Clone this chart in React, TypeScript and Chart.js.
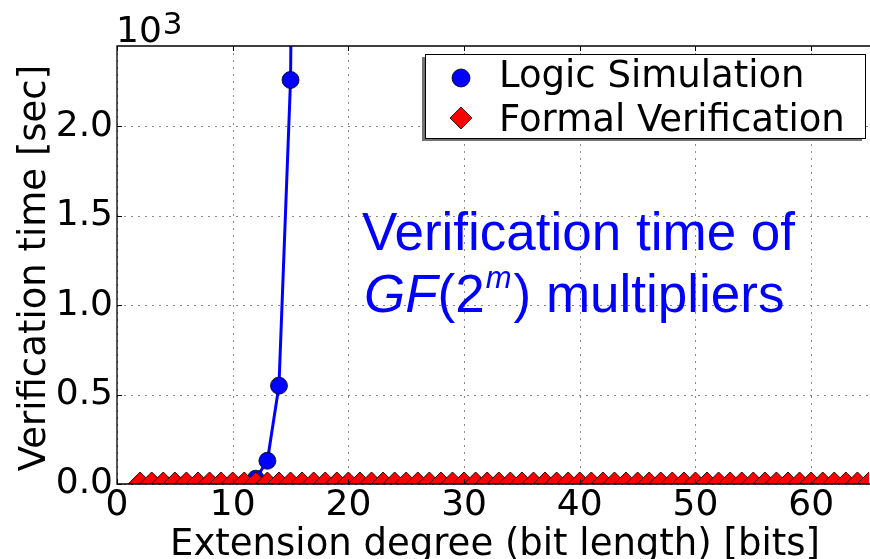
import React, { useEffect, useRef } from "react";
import { Chart, registerables } from "chart.js";

Chart.register(...registerables);

// Extension degree m (bits) and verification time (x10^3 sec)
const simDegrees = [2, 3, 4, 5, 6, 7, 8, 9, 10, 11, 12, 13, 14, 15, 16];
const simTimes = [0, 0, 0, 0, 0, 0, 0, 0, 0, 0.002, 0.03, 0.13, 0.55, 2.26, 9.3];

const formalDegrees = [
  2, 3, 4, 5, 6, 7, 8, 9, 10, 11, 12, 13, 14, 15, 16, 17, 18, 19, 20, 21, 22, 23, 24, 25, 26, 27, 28, 29, 30, 31, 32, 33,
  34, 35, 36, 37, 38, 39, 40, 41, 42, 43, 44, 45, 46, 47, 48, 49, 50, 51, 52, 53, 54, 55, 56, 57, 58, 59, 60, 61, 62, 63, 64, 65,
];
const formalTimes = [
  0, 0, 0, 0, 0, 0, 0, 0, 0, 0, 0, 0, 0, 0, 0, 0, 0, 0, 0, 0, 0, 0, 0, 0, 0, 0, 0, 0, 0, 0, 0, 0,
  0, 0, 0, 0, 0, 0, 0, 0, 0, 0, 0, 0, 0, 0, 0, 0, 0, 0, 0, 0, 0, 0, 0, 0, 0, 0, 0, 0, 0, 0, 0, 0,
];

const seriesNames = ["Logic Simulation", "Formal Verification"];
const xTitle = "Extension degree (bit length) [bits]";
const yTitle = "Verification time [sec]";
const noteLine1 = "Verification time of";

const X_MIN = 0;
const X_MAX = 65;
const Y_MIN = 0;
const Y_MAX = 2.45;

const FONT = '"DejaVu Sans", sans-serif';
const NOTE_FONT = '"Liberation Sans", Arial, sans-serif';
const BLUE = "#0000ff";
const RED = "#ff0000";

const overlayPlugin = {
  id: "overlay",
  beforeDatasetsDraw(chart: any) {
    const { ctx, chartArea: a } = chart;
    const xs = chart.scales.x;
    const ys = chart.scales.y;
    ctx.save();
    ctx.strokeStyle = "#8a8a8a";
    ctx.lineWidth = 1;
    ctx.setLineDash([2, 5]);
    xs.ticks.forEach((t: any) => {
      const px = Math.round(xs.getPixelForValue(t.value)) + 0.5;
      ctx.beginPath();
      ctx.moveTo(px, a.top);
      ctx.lineTo(px, a.bottom);
      ctx.stroke();
    });
    ys.ticks.forEach((t: any) => {
      const py = Math.round(ys.getPixelForValue(t.value)) + 0.5;
      ctx.beginPath();
      ctx.moveTo(a.left, py);
      ctx.lineTo(a.right, py);
      ctx.stroke();
    });
    ctx.restore();
  },
  afterDraw(chart: any) {
    const { ctx, chartArea: a } = chart;
    const xs = chart.scales.x;
    const ys = chart.scales.y;
    ctx.save();
    // frame
    ctx.strokeStyle = "#000";
    ctx.lineWidth = 1.3;
    ctx.setLineDash([]);
    ctx.beginPath();
    ctx.moveTo(a.right + 2, a.top);
    ctx.lineTo(a.left, a.top);
    ctx.lineTo(a.left, a.bottom);
    ctx.lineTo(a.right + 2, a.bottom);
    ctx.stroke();
    // inner ticks
    ctx.lineWidth = 1;
    xs.ticks.forEach((t: any) => {
      const px = Math.round(xs.getPixelForValue(t.value)) + 0.5;
      ctx.beginPath();
      ctx.moveTo(px, a.top);
      ctx.lineTo(px, a.top + 5);
      ctx.moveTo(px, a.bottom);
      ctx.lineTo(px, a.bottom - 5);
      ctx.stroke();
    });
    ys.ticks.forEach((t: any) => {
      const py = Math.round(ys.getPixelForValue(t.value)) + 0.5;
      ctx.beginPath();
      ctx.moveTo(a.left, py);
      ctx.lineTo(a.left + 5, py);
      ctx.stroke();
    });

    // offset text 10^3
    ctx.fillStyle = "#000";
    ctx.textAlign = "left";
    ctx.textBaseline = "alphabetic";
    ctx.font = `36px ${FONT}`;
    ctx.fillText("10", a.left - 1, 42);
    const w10 = ctx.measureText("10").width;
    ctx.font = `31px ${FONT}`;
    ctx.fillText("3", a.left - 1 + w10 + 1, 34);

    // axis titles
    ctx.font = `37px ${FONT}`;
    ctx.textAlign = "center";
    ctx.fillText(xTitle, (a.left + a.right) / 2 + 2, 555);
    ctx.save();
    ctx.translate(45, 268);
    ctx.rotate(-Math.PI / 2);
    ctx.fillText(yTitle, 0, 0);
    ctx.restore();

    // legend
    const lx = 425, ly = 54, lw = 440, lh = 84;
    ctx.fillStyle = "rgba(0,0,0,0.55)";
    ctx.fillRect(lx - 3, ly + 3, lw, lh);
    ctx.fillStyle = "#fff";
    ctx.fillRect(lx, ly, lw, lh);
    ctx.strokeStyle = "#000";
    ctx.lineWidth = 1;
    ctx.strokeRect(lx + 0.5, ly + 0.5, lw, lh);
    // circle marker
    ctx.beginPath();
    ctx.arc(461, 78, 9, 0, Math.PI * 2);
    ctx.fillStyle = BLUE;
    ctx.fill();
    ctx.strokeStyle = "#000";
    ctx.lineWidth = 0.8;
    ctx.stroke();
    // diamond marker
    ctx.beginPath();
    ctx.moveTo(461, 107);
    ctx.lineTo(472, 118);
    ctx.lineTo(461, 129);
    ctx.lineTo(450, 118);
    ctx.closePath();
    ctx.fillStyle = RED;
    ctx.fill();
    ctx.stroke();
    ctx.fillStyle = "#000";
    ctx.textAlign = "left";
    ctx.font = `37px ${FONT}`;
    ctx.fillText(seriesNames[0], 499, 87);
    ctx.fillText(seriesNames[1], 499, 131);

    // annotation
    ctx.fillStyle = BLUE;
    ctx.font = `53px ${NOTE_FONT}`;
    ctx.fillText(noteLine1, 362, 250);
    let x = 364;
    const base = 312;
    ctx.font = `italic 53px ${NOTE_FONT}`;
    ctx.fillText("GF", x, base);
    x += ctx.measureText("GF").width;
    ctx.font = `53px ${NOTE_FONT}`;
    ctx.fillText("(2", x, base);
    x += ctx.measureText("(2").width + 1;
    ctx.font = `italic 31px ${NOTE_FONT}`;
    ctx.fillText("m", x, base - 24);
    x += ctx.measureText("m").width + 2;
    ctx.font = `53px ${NOTE_FONT}`;
    ctx.fillText(") multipliers", x, base);
    ctx.restore();
  },
};

export default function App() {
  const ref = useRef<HTMLCanvasElement | null>(null);

  useEffect(() => {
    if (!ref.current) return;
    const chart = new Chart(ref.current, {
      type: "scatter",
      data: {
        datasets: [
          {
            label: seriesNames[1],
            data: formalDegrees.map((m, i) => ({ x: m, y: formalTimes[i] })),
            showLine: false,
            pointStyle: "rectRot",
            pointRadius: 12,
            pointHoverRadius: 12,
            backgroundColor: RED,
            borderColor: "#300",
            borderWidth: 1,
          },
          {
            label: seriesNames[0],
            data: simDegrees.map((m, i) => ({ x: m, y: simTimes[i] })),
            showLine: true,
            borderColor: BLUE,
            borderWidth: 3,
            pointStyle: "circle",
            pointRadius: 8.5,
            pointHoverRadius: 8.5,
            pointBackgroundColor: BLUE,
            pointBorderColor: "#000",
            pointBorderWidth: 0.8,
            backgroundColor: BLUE,
          },
        ],
      },
      options: {
        animation: false,
        responsive: false,
        events: [],
        layout: { padding: { top: 46, left: 0, right: 0, bottom: 0 } },
        plugins: {
          legend: { display: false },
          tooltip: { enabled: false },
          title: { display: false },
        },
        scales: {
          x: {
            type: "linear",
            min: X_MIN,
            max: X_MAX,
            grid: { display: false, drawTicks: false },
            border: { display: false },
            ticks: {
              stepSize: 10,
              includeBounds: false,
              color: "#000",
              padding: 0,
              maxRotation: 0,
              font: { family: "DejaVu Sans", size: 36 },
              callback: (v: any) => String(v),
            },
            afterFit: (s: any) => {
              s.height = 75;
            },
          },
          y: {
            type: "linear",
            min: Y_MIN,
            max: Y_MAX,
            grid: { display: false, drawTicks: false },
            border: { display: false },
            ticks: {
              stepSize: 0.5,
              includeBounds: false,
              color: "#000",
              padding: 4,
              font: { family: "DejaVu Sans", size: 36 },
              callback: (v: any) => Number(v).toFixed(1),
            },
            afterFit: (s: any) => {
              s.width = 117;
            },
          },
        },
      },
      plugins: [overlayPlugin],
    });
    return () => chart.destroy();
  }, []);

  return (
    <div
      style={{
        position: "fixed",
        left: 0,
        top: 0,
        width: 870,
        height: 559,
        overflow: "hidden",
        background: "#fff",
      }}
    >
      <canvas ref={ref} width={882} height={559} style={{ width: 882, height: 559, display: "block" }} />
    </div>
  );
}
